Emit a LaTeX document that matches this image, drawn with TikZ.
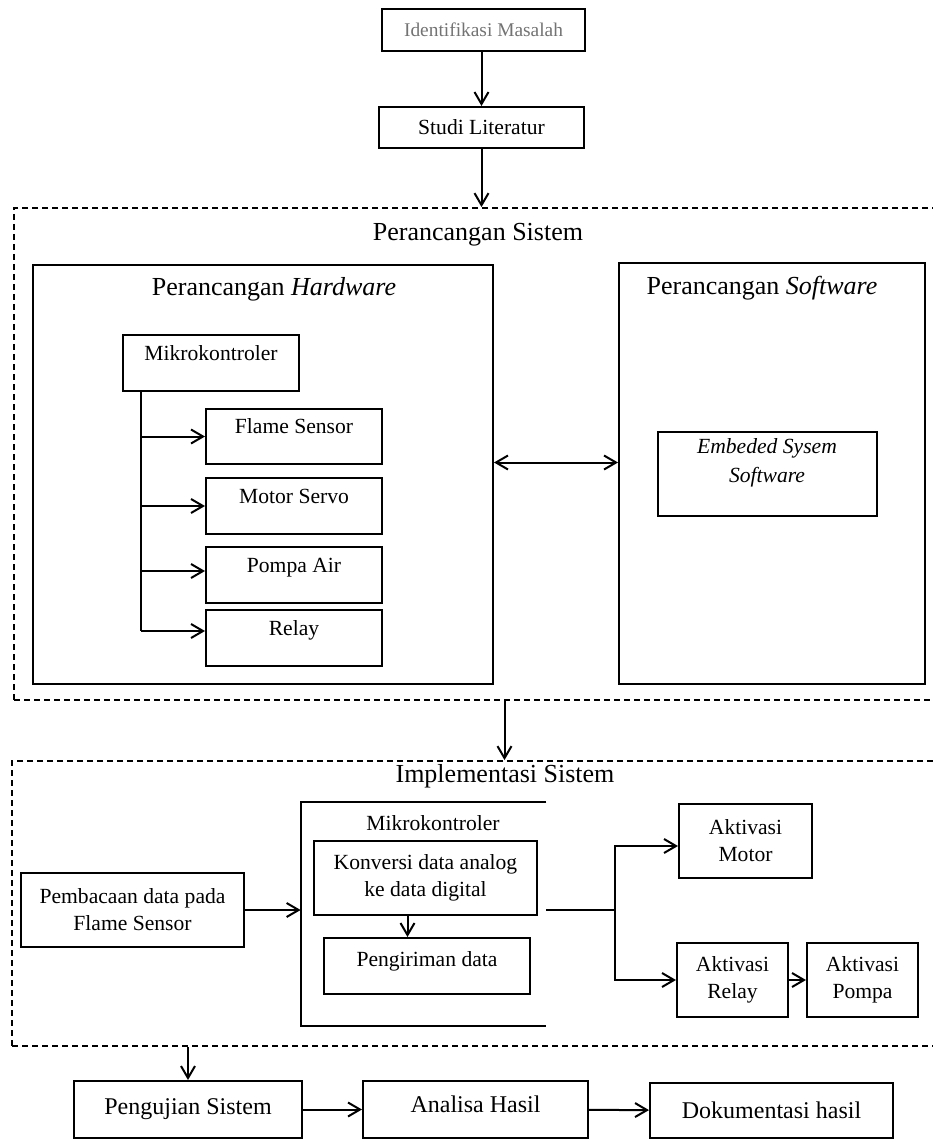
\documentclass[tikz,border=0pt]{standalone}
\usepackage{fontspec}
\setmainfont{Liberation Serif}
\usetikzlibrary{arrows.meta, positioning}
\tikzset{
  box/.style={draw, line width=1pt, inner sep=0pt, align=center},
  upbox/.style={box, text height=8pt, text depth=#1},
  area/.style={draw, line width=0.9pt, dash pattern=on 3pt off 2pt},
  arr/.style={line width=1pt, -{Straight Barb[length=6pt,width=7pt]}},
  dbl/.style={line width=1pt, {Straight Barb[length=6pt,width=7pt]}-{Straight Barb[length=6pt,width=7pt]}},
  ttl/.style={font=\fontsize{13}{15}\selectfont},
  txt/.style={font=\fontsize{10.8}{13.5}\selectfont},
}

\begin{document}
\begin{tikzpicture}[x=0.5pt, y=-0.5pt]
  \useasboundingbox (0,0) rectangle (932,1139);
  \node[box, minimum width=101.5pt, minimum height=21pt, text=black!55,
    font=\fontsize{9.7}{12}\selectfont] (idm) at (483.5,30) {Identifikasi Masalah};
  \node[box, txt, minimum width=102.5pt, minimum height=20.5pt] (studi) at (481.5,127.5) {Studi Literatur};
  \draw[arr] (idm.south -| studi.north) -- (studi.north);

  % perancangan
  \node[area, minimum width=465.5pt, minimum height=246pt] (desain) at (479.5,454) {};
  \node[ttl] (t-desain) at (478,235) {Perancangan Sistem};
  \draw[arr] (studi.south) -- (studi.south |- desain.north);
  \node[box, minimum width=230pt, minimum height=209.5pt] (hw) at (263,474.5) {};
  \node[ttl] (t-hw) at (274,289) {Perancangan \textit{Hardware}};
  \node[box, minimum width=153pt, minimum height=210.5pt] (sw) at (772,473.5) {};
  \node[ttl] (t-sw) at (762,288) {Perancangan \textit{Software}};
  \node[upbox=11pt, txt, minimum width=88pt, minimum height=28pt] (mk1) at (211,363) {Mikrokontroler};
  \node[upbox=11pt, txt, minimum width=88pt, minimum height=27.5pt] (flame) at (294,436.5) {Flame Sensor};
  \node[upbox=11pt, txt, minimum width=88pt, minimum height=28pt] (servo) at (294,506) {Motor Servo};
  \node[upbox=11pt, txt, minimum width=88pt, minimum height=28pt] (pompa) at (294,575) {Pompa Air};
  \node[upbox=11pt, txt, minimum width=88pt, minimum height=28pt] (relay) at (294,638) {Relay};
  \node[box, minimum width=109.5pt, minimum height=42pt] (emb) at (767.5,474) {};
  \node[txt, align=center, font=\fontsize{10.8}{14.5}\selectfont\itshape] (t-emb) at (767,463) {Embeded Sysem\\Software};

  \coordinate (bus) at ([xshift=9.5pt]mk1.south west);
  \coordinate (pa) at ([yshift=2pt]pompa.west);
  \coordinate (rl) at ([yshift=3.5pt]relay.west);
  \draw[line width=1pt] (bus) -- (bus |- rl);
  \draw[arr] (bus |- flame.west) -- (flame.west);
  \draw[arr] (bus |- servo.west) -- (servo.west);
  \draw[arr] (bus |- pa) -- (pa);
  \draw[arr] (bus |- rl) -- (rl);
  \coordinate (hs) at ([yshift=6pt]hw.east);
  \draw[dbl] (hs) -- (hs -| sw.west);

  % implementasi
  \node[area, minimum width=466.5pt, minimum height=142.5pt] (impl) at (478.5,903.5) {};
  \node[ttl] (t-impl) at (505,776) {Implementasi Sistem};
  \draw[arr] ([xshift=12.5pt]desain.south) -- ([xshift=12.5pt]desain.south |- impl.north);
  \node[minimum width=122.5pt, minimum height=112pt] (mk2) at (423.5,914) {};
  \draw[line width=1pt] (mk2.north east) -- (mk2.north west) -- (mk2.south west) -- (mk2.south east);
  \node[txt] (t-mk2) at (433,823) {Mikrokontroler};
  \node[box, txt, minimum width=111.5pt, minimum height=37pt] (konv) at (425.5,878) {Konversi data analog\\ke data digital};
  \node[upbox=8pt, txt, minimum width=103pt, minimum height=28pt] (kirim) at (427,966) {Pengiriman data};
  \draw[arr] ([xshift=-9pt]konv.south) -- ([xshift=-9pt]konv.south |- kirim.north);
  \node[box, txt, minimum width=111.5pt, minimum height=37pt] (baca) at (132.5,910) {Pembacaan data pada\\Flame Sensor};
  \draw[arr] (baca.east) -- (baca.east -| mk2.west);
  \node[box, txt, minimum width=66.5pt, minimum height=37pt] (motor) at (745.5,841) {Aktivasi\\Motor};
  \node[box, txt, minimum width=55.5pt, minimum height=37pt] (rly) at (732.5,980) {Aktivasi\\Relay};
  \node[box, txt, minimum width=55.5pt, minimum height=37pt] (pmp) at (862.5,980) {Aktivasi\\Pompa};
  \coordinate (out) at ([yshift=2pt]mk2.east);
  \coordinate (fork) at ([xshift=34.5pt]out);
  \coordinate (mt) at ([yshift=-2.5pt]motor.west);
  \draw[line width=1pt] (out) -- (fork);
  \draw[arr] (fork) |- (mt);
  \draw[arr] (fork) |- (rly.west);
  \draw[arr] (rly) -- (pmp);

  % hasil
  \node[box, font=\fontsize{12}{14}\selectfont, minimum width=114pt, minimum height=28.5pt] (uji) at (188,1109.5) {Pengujian Sistem};
  \node[upbox=5pt, font=\fontsize{12}{14}\selectfont, minimum width=112.5pt, minimum height=28.5pt] (analisa) at (475.5,1109.5) {Analisa Hasil};
  \node[box, font=\fontsize{12}{14}\selectfont, minimum width=121.5pt, minimum height=27.5pt] (dok) at (771.5,1110.5) {Dokumentasi hasil};
  \draw[arr] (uji.north |- impl.south) -- (uji.north);
  \draw[arr] (uji) -- (analisa);
  \draw[arr] (analisa) -- (dok);
\end{tikzpicture}
\end{document}
